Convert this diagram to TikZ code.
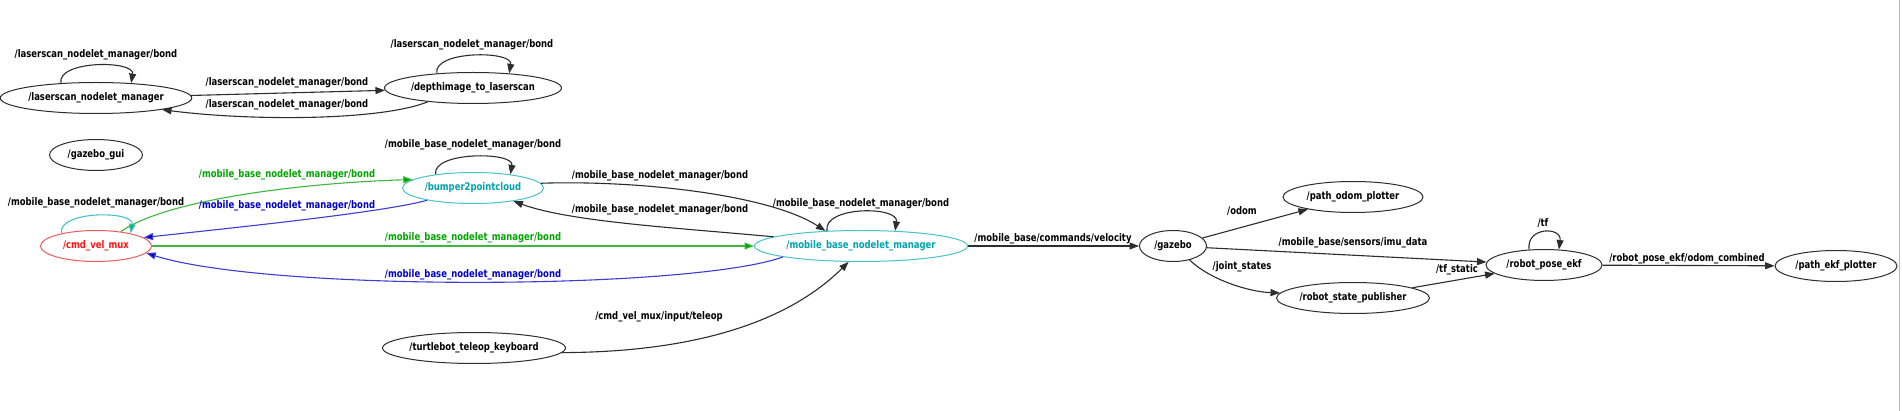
\documentclass[tikz,border=0pt]{standalone}
\usepackage{fontspec}
\setmainfont{DejaVu Sans}[FakeStretch=0.806]
\usetikzlibrary{shapes.geometric,arrows.meta}
\definecolor{tealline}{RGB}{70,195,198}
\definecolor{tealtext}{RGB}{0,163,172}
\definecolor{redline}{RGB}{240,90,90}
\definecolor{redtext}{RGB}{250,20,20}
\definecolor{greenline}{RGB}{60,185,60}
\definecolor{greentext}{RGB}{0,165,0}
\definecolor{blueline}{RGB}{60,60,215}
\definecolor{bluetext}{RGB}{0,0,200}
\definecolor{edgegray}{RGB}{45,45,45}
\begin{document}
\begin{tikzpicture}[x=1pt,y=-1pt,
  every node/.style={font=\fontsize{10.5}{12}\selectfont\bfseries},
  nd/.style={ellipse,draw=edgegray,line width=1pt,inner sep=0pt,minimum height=31pt},
  cnd/.style={nd,draw=tealline,text=tealtext},
  lbl/.style={inner sep=0pt,text=black},
  conn/.style={line width=1.1pt,draw=edgegray,-{Triangle[length=9.5pt,width=7pt]},fill=none},
  gconn/.style={conn,draw=greenline,-{Triangle[length=9.5pt,width=7pt,fill=greentext]}},
  bconn/.style={conn,draw=blueline,-{Triangle[length=9.5pt,width=7pt,fill=bluetext]}},
  tconn/.style={conn,draw=tealline,-{Triangle[length=9.5pt,width=7pt,fill=tealtext]}}
]
\useasboundingbox (0,0) rectangle (1902,411);
\fill[white] (0,0) rectangle (1902,411);
\draw[gray!55,line width=1.5pt] (1899.5,0) coordinate (bt) -- (1899.5,411) coordinate (bb);

% nodes
\node[nd,minimum width=188pt] (lnm) at (96,98) {/laserscan\_nodelet\_manager};
\node[nd,minimum width=177pt] (dtl) at (473,88) {/depthimage\_to\_laserscan};
\node[nd,minimum width=93pt] (ggui) at (96,155) {/gazebo\_gui};
\node[cnd,minimum width=141pt] (b2p) at (473,188) {/bumper2pointcloud};
\node[nd,draw=redline,text=redtext,minimum width=111pt] (cvm) at (96,246) {/cmd\_vel\_mux};
\node[cnd,minimum width=213pt] (mbnm) at (861,246) {/mobile\_base\_nodelet\_manager};
\node[nd,minimum width=183pt] (tb) at (474,348) {/turtlebot\_teleop\_keyboard};
\node[nd,minimum width=67pt] (gaz) at (1173,246) {/gazebo};
\node[nd,minimum width=140pt] (pop) at (1353,197) {/path\_odom\_plotter};
\node[nd,minimum width=153pt] (rsp) at (1353,298) {/robot\_state\_publisher};
\node[nd,minimum width=116pt] (rpe) at (1544,265) {/robot\_pose\_ekf};
\node[nd,minimum width=122pt] (pep) at (1836,266) {/path\_ekf\_plotter};

% laserscan group
\draw[conn] (lnm.157) .. controls +(-4,-23) and +(4,-23) .. (lnm.23);
\node[lbl] (llnm) at (96,55) {/laserscan\_nodelet\_manager/bond};
\draw[conn] (dtl.158) .. controls +(-4,-23) and +(4,-23) .. (dtl.22);
\node[lbl] (ldtl) at (472,45) {/laserscan\_nodelet\_manager/bond};
\draw[conn] (lnm) -- (dtl);
\node[lbl] (l1) at (287,83) {/laserscan\_nodelet\_manager/bond};
\draw[conn] (dtl.197) .. controls (380,121) and (250,121) .. (lnm.-10);
\node[lbl] (l2) at (287,105) {/laserscan\_nodelet\_manager/bond};

% mobile base group
\draw[conn] (b2p.160) .. controls +(-4,-23) and +(4,-23) .. (b2p.20);
\node[lbl] (lb2p) at (473,145) {/mobile\_base\_nodelet\_manager/bond};
\draw[tconn] (cvm.160) .. controls +(-4,-23) and +(4,-23) .. (cvm.20);
\node[lbl] (lcvm) at (96,203) {/mobile\_base\_nodelet\_manager/bond};
\draw[conn] (mbnm.156) .. controls +(-4,-25) and +(4,-25) .. (mbnm.24);
\node[lbl] (lmbnm) at (861,204) {/mobile\_base\_nodelet\_manager/bond};

\draw[gconn] (cvm.30) .. controls (165,200) and (300,183) .. (b2p.172);
\node[lbl,text=greentext] (g1) at (287,175) {/mobile\_base\_nodelet\_manager/bond};
\draw[bconn] (b2p.195) .. controls (380,213) and (230,228) .. (cvm.10);
\node[lbl,text=bluetext] (b1) at (287,206) {/mobile\_base\_nodelet\_manager/bond};
\draw[gconn] (cvm) -- (mbnm);
\node[lbl,text=greentext] (g2) at (473,238) {/mobile\_base\_nodelet\_manager/bond};
\draw[bconn] (mbnm.188) .. controls (690,290) and (270,292) .. (cvm.-8);
\node[lbl,text=bluetext] (b2) at (473,275) {/mobile\_base\_nodelet\_manager/bond};

\draw[conn] (b2p.4) .. controls (640,180) and (770,195) .. (mbnm.157);
\node[lbl] (k1) at (660,176) {/mobile\_base\_nodelet\_manager/bond};
\draw[conn] (mbnm.174) .. controls (680,228) and (570,222) .. (b2p.-18);
\node[lbl] (k2) at (660,210) {/mobile\_base\_nodelet\_manager/bond};

\draw[conn] (tb.-3) .. controls (720,352) and (800,310) .. (mbnm.232);
\node[lbl] (ktb) at (659,317) {/cmd\_vel\_mux/input/teleop};

% right group
\draw[conn] (mbnm) -- (gaz);
\node[lbl] (kv) at (1053,239) {/mobile\_base/commands/velocity};
\draw[conn] (gaz) -- (pop);
\node[lbl] (ko) at (1242,211) {/odom};
\draw[conn] (gaz) -- (rpe);
\node[lbl] (ki) at (1353,243) {/mobile\_base/sensors/imu\_data};
\draw[conn] (gaz.-40) .. controls (1210,280) and (1250,292) .. (rsp.176);
\node[lbl] (kj) at (1242,267) {/joint\_states};
\draw[conn] (rsp) -- (rpe);
\node[lbl] (kt) at (1457,270) {/tf\_static};
\draw[conn] (rpe.134) .. controls +(-3,-23) and +(3,-23) .. (rpe.46);
\node[lbl] (ktf) at (1543,223) {/tf};
\draw[conn] (rpe) -- (pep);
\node[lbl] (kc) at (1687,259) {/robot\_pose\_ekf/odom\_combined};
\end{tikzpicture}
\end{document}
